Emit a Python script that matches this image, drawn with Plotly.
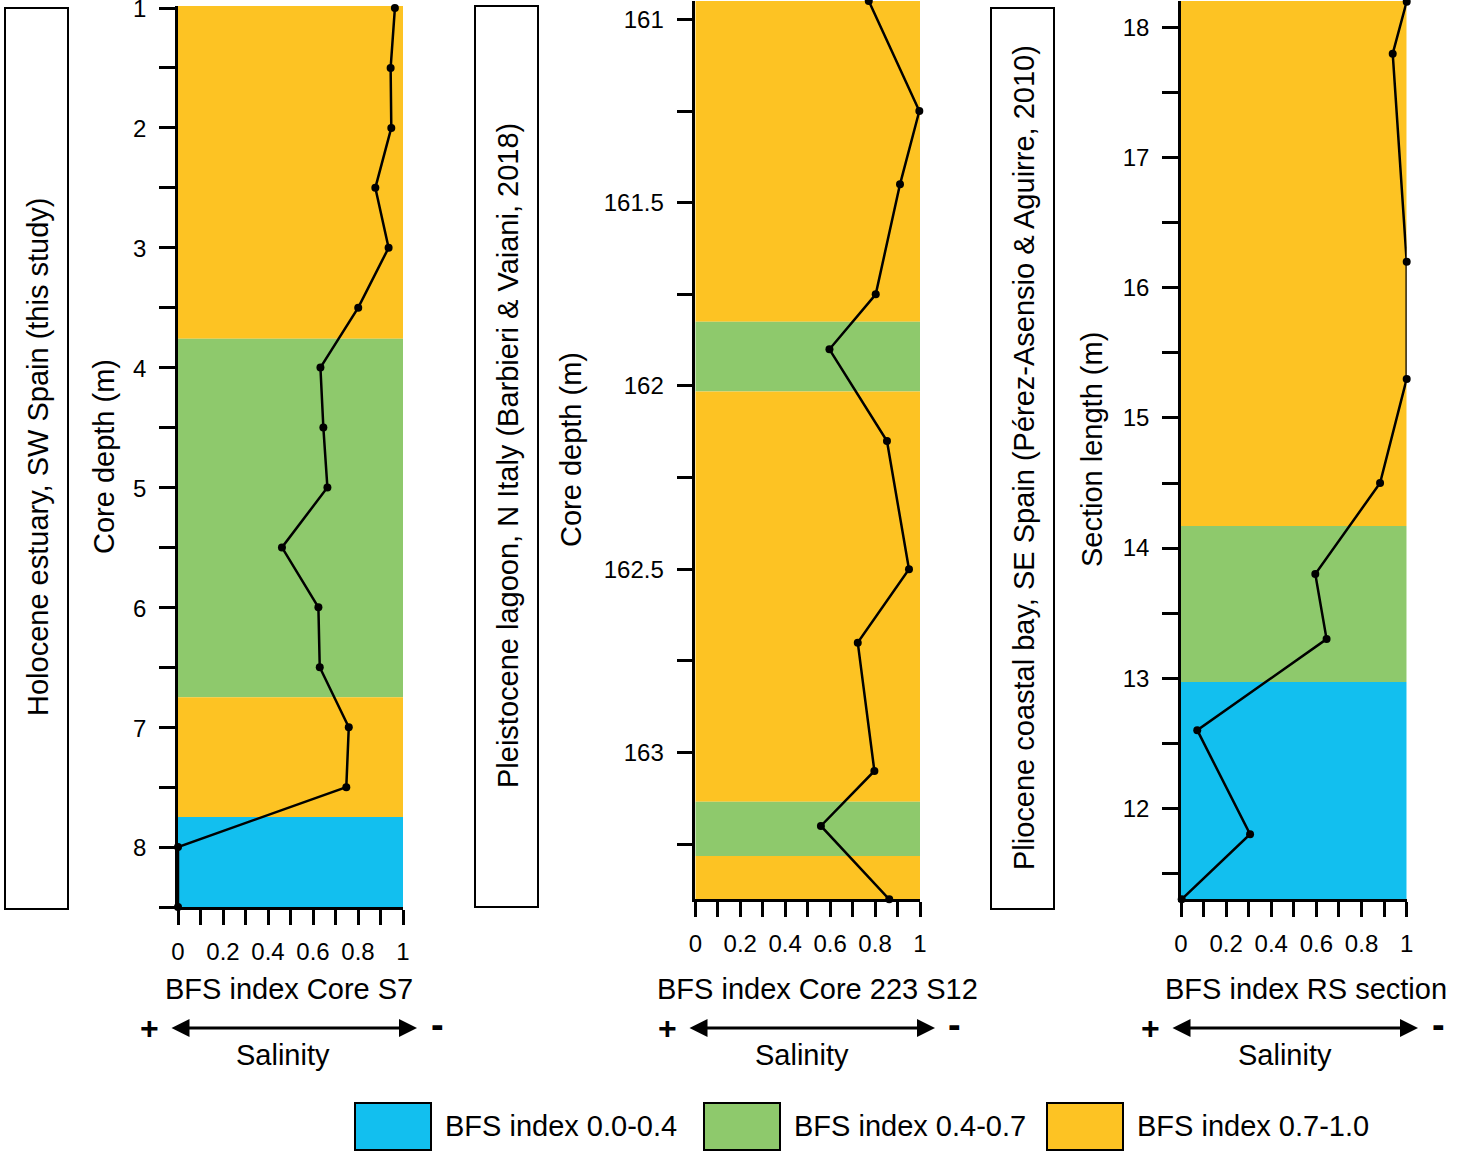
import plotly.graph_objects as go

W, H = 1463, 1158
FONT = "Liberation Sans, Arial, sans-serif"

# ---------------- data ----------------
s7_depth = [1.0, 1.5, 2.0, 2.5, 3.0, 3.5, 4.0, 4.5, 5.0, 5.5, 6.0, 6.5, 7.0, 7.5, 8.0, 8.5]
s7_bfs = [0.964, 0.945, 0.948, 0.877, 0.936, 0.801, 0.633, 0.646, 0.664, 0.462, 0.624, 0.630, 0.759, 0.748, 0.0, 0.0]

s12_depth = [160.95, 161.25, 161.45, 161.75, 161.90, 162.15, 162.50, 162.70, 163.05, 163.20, 163.40]
s12_bfs = [0.772, 0.997, 0.911, 0.803, 0.597, 0.853, 0.951, 0.723, 0.797, 0.559, 0.863]

rs_length = [18.2, 17.8, 16.2, 15.3, 14.5, 13.8, 13.3, 12.6, 11.8, 11.3]
rs_bfs = [1.0, 0.938, 1.0, 1.0, 0.882, 0.595, 0.645, 0.072, 0.306, 0.003]

# bands: (start, end, class)
s7_bands = [(0.983, 3.76, 2), (3.76, 6.75, 1), (6.75, 7.75, 2), (7.75, 8.5, 0)]
s12_bands = [(160.95, 161.825, 2), (161.825, 162.015, 1), (162.015, 163.134, 2),
             (163.134, 163.282, 1), (163.282, 163.4, 2)]
rs_bands = [(11.3, 12.97, 0), (12.97, 14.17, 1), (14.17, 18.205, 2)]

class_colors = ["#12BFEF", "#8EC96C", "#FDC323"]
class_labels = ["BFS index 0.0-0.4", "BFS index 0.4-0.7", "BFS index 0.7-1.0"]

panel_titles = ["BFS index Core S7", "BFS index Core 223 S12", "BFS index RS section"]
y_titles = ["Core depth (m)", "Core depth (m)", "Section length (m)"]
box_texts = ["Holocene estuary, SW Spain (this study)",
             "Pleistocene lagoon, N Italy (Barbieri & Vaiani, 2018)",
             "Pliocene coastal bay, SE Spain (Pérez-Asensio & Aguirre, 2010)"]

TXT = 29
TICK = 24


def px(x):
    return x / W


def py(y):
    return 1 - y / H


fig = go.Figure()

# panel geometry in pixels: (x0, x1, ytop, ybottom)
panels = [(178, 403, 6, 907), (695.3, 920, 1, 899.3), (1181, 1406.7, 1, 899.3)]
yranges = [[8.5, 0.983], [163.4, 160.95], [11.3, 18.205]]
ydticks = [1, 0.5, 1]
yminor = [0.5, 0.25, 0.5]
ytick0 = [1, 161, 12]
yshift = [-1, 0, 0]

series = [(s7_bfs, s7_depth), (s12_bfs, s12_depth), (rs_bfs, rs_length)]
bands = [s7_bands, s12_bands, rs_bands]

layout_axes = {}
for i in range(3):
    xa = "x" if i == 0 else f"x{i+1}"
    ya = "y" if i == 0 else f"y{i+1}"
    x0, x1, yt, yb = panels[i]
    fig.add_trace(go.Scatter(
        x=series[i][0], y=series[i][1], mode="lines+markers",
        line=dict(color="black", width=2.5),
        marker=dict(color="black", size=8),
        xaxis=xa, yaxis=ya, cliponaxis=False, showlegend=False,
        hoverinfo="x+y"))
    for (a, b, c) in bands[i]:
        fig.add_shape(type="rect", xref=xa, yref=ya, x0=0, x1=1, y0=a, y1=b,
                      fillcolor=class_colors[c], line=dict(width=0), layer="below")
    axkey = "xaxis" if i == 0 else f"xaxis{i+1}"
    aykey = "yaxis" if i == 0 else f"yaxis{i+1}"
    layout_axes[axkey] = dict(
        domain=[px(x0), px(x1)], anchor=ya, range=[0, 1], automargin=False,
        tickmode="linear", tick0=0, dtick=0.2, ticks="outside", ticklen=15,
        tickwidth=2.5, tickcolor="black", showline=True, linecolor="black",
        linewidth=2.5, showgrid=False, zeroline=False,
        tickfont=dict(family=FONT, size=TICK, color="black"),
        ticklabelstandoff=6, ticklabeloverflow="allow",
        minor=dict(dtick=0.1, tick0=0, ticks="outside", ticklen=15,
                   tickwidth=2.5, tickcolor="black", showgrid=False))
    layout_axes[aykey] = dict(
        domain=[py(yb), py(yt)], anchor=xa, range=yranges[i], automargin=False,
        tickmode="linear", tick0=ytick0[i], dtick=ydticks[i], ticks="outside",
        ticklen=16, tickwidth=2.5, tickcolor="black", showline=True,
        linecolor="black", linewidth=2.5, showgrid=False, zeroline=False,
        tickfont=dict(family=FONT, size=TICK, color="black"),
        ticklabelstandoff=8, ticklabeloverflow="allow", ticklabelshift=yshift[i],
        minor=dict(dtick=yminor[i], tick0=ytick0[i], ticks="outside", ticklen=16,
                   tickwidth=2.5, tickcolor="black", showgrid=False))

annotations = []
shapes_paper = []


def text_ann(x, y, text, size=TXT, angle=0, xanchor="center"):
    return dict(x=px(x), y=py(y), xref="paper", yref="paper", text=text,
                showarrow=False, textangle=angle, xanchor=xanchor, yanchor="middle",
                font=dict(family=FONT, size=size, color="black"))


# x titles, salinity arrows
title_cx = [289, 817, 1306]
arrow_x = [(170, 417), (688, 935), (1171, 1418)]
plus_x = [149, 667, 1150]
minus_x = [437, 955, 1438]
sal_x = [283, 802, 1285]
for i in range(3):
    annotations.append(text_ann(title_cx[i], 989, panel_titles[i]))
    a0, a1 = arrow_x[i]
    annotations.append(dict(x=px(a1), y=py(1028), xref="paper", yref="paper",
                            ax=-(a1 - a0), ay=0, text="", showarrow=True,
                            arrowhead=2, arrowside="end+start", arrowsize=1.2,
                            arrowwidth=3, arrowcolor="black",
                            standoff=0, startstandoff=0))
    annotations.append(text_ann(plus_x[i], 1028, "<b>+</b>", size=32))
    annotations.append(text_ann(minus_x[i], 1025, "<b>-</b>", size=38))
    annotations.append(text_ann(sal_x[i], 1055, "Salinity"))

# y titles
ytitle_x = [104, 571, 1092]
ytitle_y = [457, 450, 450]
for i in range(3):
    annotations.append(text_ann(ytitle_x[i], ytitle_y[i], y_titles[i], angle=-90))

# side boxes
boxes = [(5, 68, 8, 909), (475, 538, 6, 907), (991, 1054, 8, 909)]
for i, (bx0, bx1, by0, by1) in enumerate(boxes):
    shapes_paper.append(dict(type="rect", xref="paper", yref="paper",
                             x0=px(bx0), x1=px(bx1), y0=py(by1), y1=py(by0),
                             line=dict(color="black", width=2), fillcolor="white"))
    annotations.append(text_ann((bx0 + bx1) / 2 + 1, (by0 + by1) / 2 - 1,
                                box_texts[i], angle=-90))

# legend
leg_x = [355, 704, 1047]
for i in range(3):
    lx = leg_x[i]
    shapes_paper.append(dict(type="rect", xref="paper", yref="paper",
                             x0=px(lx), x1=px(lx + 76), y0=py(1150), y1=py(1103),
                             line=dict(color="black", width=2),
                             fillcolor=class_colors[i]))
    annotations.append(text_ann(lx + 88, 1126, class_labels[i], xanchor="left"))

for s in shapes_paper:
    fig.add_shape(**s)

fig.update_layout(
    template="none",
    width=W, height=H, margin=dict(l=0, r=0, t=0, b=0, pad=0, autoexpand=False),
    paper_bgcolor="white", plot_bgcolor="white",
    font=dict(family=FONT, color="black"),
    annotations=annotations, showlegend=False,
    **layout_axes)

fig.write_html("out.html", config={"displayModeBar": False},
               post_script="document.body.style.margin='0';document.body.style.overflow='hidden';")
